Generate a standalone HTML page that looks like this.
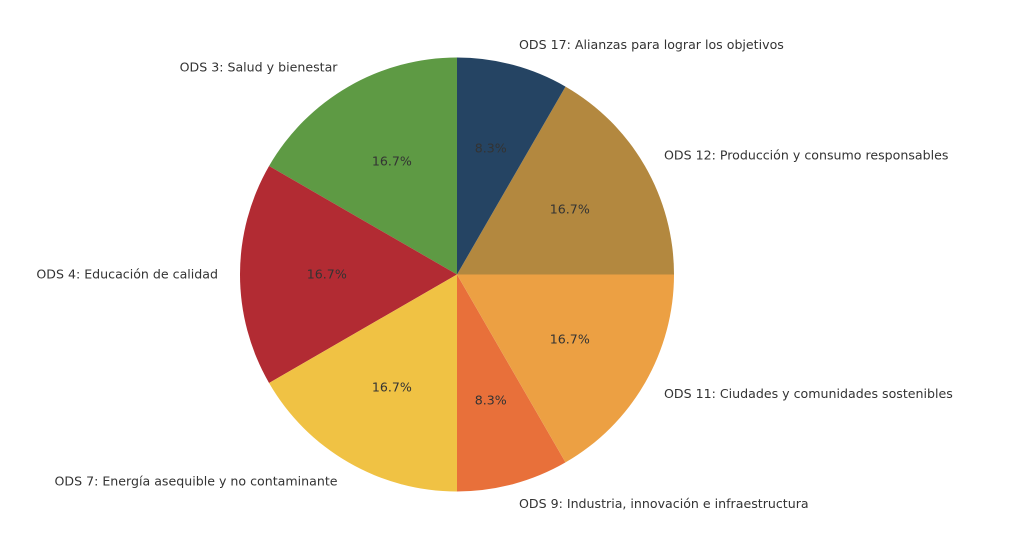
<!DOCTYPE html>
<html><head><style>html,body{margin:0;padding:0;background:#fff;overflow:hidden}</style></head>
<body>
<svg width="1024" height="557" xmlns="http://www.w3.org/2000/svg" font-family="DejaVu Sans, Liberation Sans, sans-serif" font-size="12.6" style="display:block">
<g>
<path d="M457,274.5 L457,57.5 A217,217 0 0 0 269.07,166 Z" fill="#5e9a44"/>
<path d="M457,274.5 L269.07,166 A217,217 0 0 0 269.07,383 Z" fill="#b22b33"/>
<path d="M457,274.5 L269.07,383 A217,217 0 0 0 457,491.5 Z" fill="#f0c244"/>
<path d="M457,274.5 L457,491.5 A217,217 0 0 0 565.5,462.43 Z" fill="#e8703a"/>
<path d="M457,274.5 L565.5,462.43 A217,217 0 0 0 674,274.5 Z" fill="#eca043"/>
<path d="M457,274.5 L674,274.5 A217,217 0 0 0 565.5,86.57 Z" fill="#b3883f"/>
<path d="M457,274.5 L565.5,86.57 A217,217 0 0 0 457,57.5 Z" fill="#254463"/>
</g>
<g fill="#333" dominant-baseline="central">
<text x="337.5" y="67" text-anchor="end">ODS 3: Salud y bienestar</text>
<text x="218" y="274" text-anchor="end">ODS 4: Educación de calidad</text>
<text x="337.5" y="481" text-anchor="end">ODS 7: Energía asequible y no contaminante</text>
<text x="519" y="503.5" text-anchor="start">ODS 9: Industria, innovación e infraestructura</text>
<text x="664" y="393.5" text-anchor="start">ODS 11: Ciudades y comunidades sostenibles</text>
<text x="664" y="155" text-anchor="start">ODS 12: Producción y consumo responsables</text>
<text x="519" y="44.5" text-anchor="start">ODS 17: Alianzas para lograr los objetivos</text>
</g>
<g fill="#333" dominant-baseline="central" text-anchor="middle">
<text x="391.9" y="161.2">16.7%</text>
<text x="326.8" y="274">16.7%</text>
<text x="391.9" y="386.8">16.7%</text>
<text x="490.7" y="399.8">8.3%</text>
<text x="569.8" y="339.1">16.7%</text>
<text x="569.8" y="208.9">16.7%</text>
<text x="490.7" y="148.2">8.3%</text>
</g>
</svg>
</body></html>
